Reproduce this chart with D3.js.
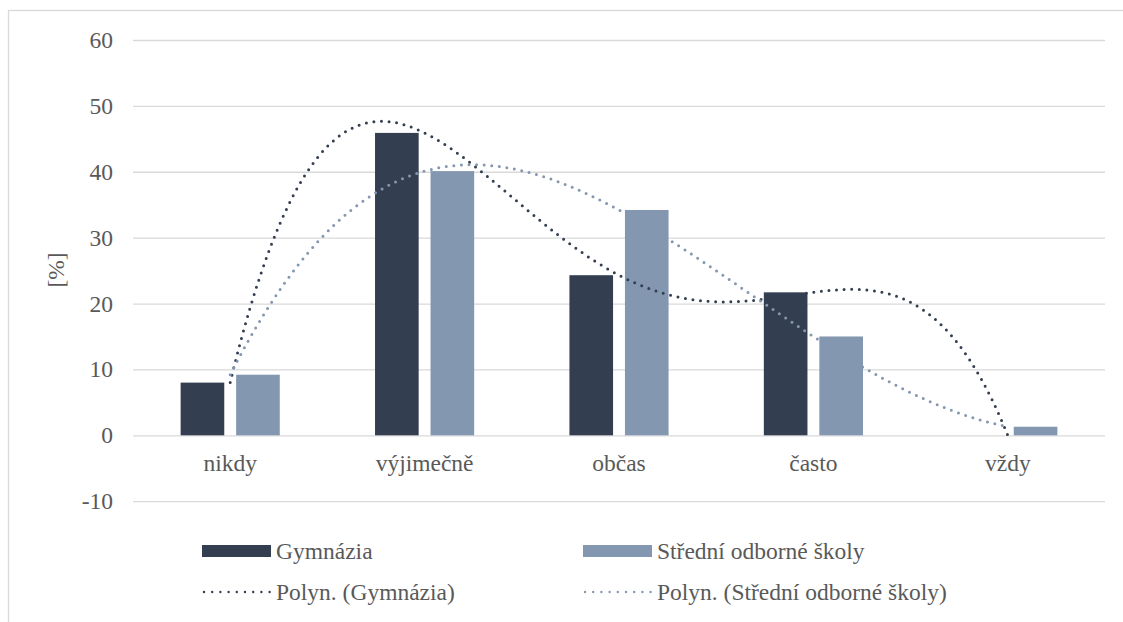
<!DOCTYPE html>
<html>
<head>
<meta charset="utf-8">
<script src="https://cdn.jsdelivr.net/npm/d3@7"></script>
<style>
  html, body { margin: 0; padding: 0; background: #ffffff; }
  svg { display: block; }
  svg text { font-family: 'Liberation Serif', 'Times New Roman', Tinos, 'DejaVu Serif', serif !important; fill: #595959; }
</style>
</head>
<body>
<svg id="chart" width="1123" height="622"></svg>
<script>
// ---- data ----
const categories = ["nikdy", "výjimečně", "občas", "často", "vždy"];
const gymnazia = [8.0, 45.9, 24.3, 21.7, 0];
const stredniSkoly = [9.2, 40.1, 34.2, 15.0, 1.3];
const seriesNames = ["Gymnázia", "Střední odborné školy"];
const trendNames = ["Polyn. (Gymnázia)", "Polyn. (Střední odborné školy)"];
const yTicks = [-10, 0, 10, 20, 30, 40, 50, 60];
const yTitle = "[%]";

// ---- layout ----
const W = 1123, H = 622;
const plot = { left: 133, right: 1105, top: 40, bottom: 501.2 };
const colors = ["#333F50", "#8497B0"];
const fontSize = 23.5;
const serif = "'Liberation Serif', 'Times New Roman', Tinos, 'DejaVu Serif', serif";

const svg = d3.select("#chart");

// chart border
svg.append("rect")
  .attr("x", 8.5).attr("y", 10.5)
  .attr("width", W + 10).attr("height", H + 10)
  .attr("fill", "none").attr("stroke", "#D9D9D9").attr("stroke-width", 1.3);

const x = d3.scaleBand().domain(categories).range([plot.left, plot.right]).paddingInner(0).paddingOuter(0);
const bw = x.bandwidth();
const x1 = d3.scaleBand().domain([0, 1]).range([bw * 0.245, bw * 0.755]).paddingInner(0.214).paddingOuter(0);
const y = d3.scaleLinear().domain([-10, 60]).range([plot.bottom, plot.top]);

// y axis with gridlines
const yAxis = d3.axisLeft(y).tickValues(yTicks)
  .tickSize(-(plot.right - plot.left)).tickPadding(20).tickFormat(d => String(d));
const gy = svg.append("g").attr("transform", `translate(${plot.left},0)`).call(yAxis)
  .attr("font-family", serif).attr("font-size", fontSize);
gy.select(".domain").remove();
gy.selectAll(".tick line").attr("stroke", "#D9D9D9").attr("stroke-width", 1.3);
gy.selectAll(".tick text").attr("fill", "#595959").style("font-family", serif).style("font-size", fontSize + "px");

// x labels
svg.append("g").selectAll("text").data(categories).join("text")
  .attr("x", d => x(d) + bw / 2)
  .attr("y", 471)
  .attr("text-anchor", "middle")
  .style("font-family", serif)
  .style("font-size", fontSize + "px")
  .text(d => d);

// y title
svg.append("text")
  .attr("transform", `translate(64,270) rotate(-90)`)
  .attr("text-anchor", "middle")
  .style("font-family", serif)
  .style("font-size", fontSize + "px")
  .text(yTitle);

// bars
const series = [gymnazia, stredniSkoly];
series.forEach((vals, si) => {
  svg.append("g").selectAll("rect").data(vals).join("rect")
    .attr("x", (d, i) => x(categories[i]) + x1(si))
    .attr("width", x1.bandwidth())
    .attr("y", d => y(Math.max(d, 0)))
    .attr("height", d => Math.abs(y(d) - y(0)))
    .attr("fill", colors[si]);
});

// polynomial (order 4) least-squares trendline, as in the spreadsheet trendline
function polyFit(xs, ys, order) {
  const n = order + 1;
  const A = Array.from({ length: n }, () => new Array(n + 1).fill(0));
  for (let r = 0; r < n; r++) {
    for (let c = 0; c < n; c++) A[r][c] = d3.sum(xs, xv => Math.pow(xv, r + c));
    A[r][n] = d3.sum(xs, (xv, i) => ys[i] * Math.pow(xv, r));
  }
  for (let i = 0; i < n; i++) {
    let p = i;
    for (let k = i + 1; k < n; k++) if (Math.abs(A[k][i]) > Math.abs(A[p][i])) p = k;
    [A[i], A[p]] = [A[p], A[i]];
    for (let k = i + 1; k < n; k++) {
      const f = A[k][i] / A[i][i];
      for (let c = i; c <= n; c++) A[k][c] -= f * A[i][c];
    }
  }
  const coef = new Array(n).fill(0);
  for (let i = n - 1; i >= 0; i--) {
    let s = A[i][n];
    for (let c = i + 1; c < n; c++) s -= A[i][c] * coef[c];
    coef[i] = s / A[i][i];
  }
  return t => coef.reduce((acc, cf, k) => acc + cf * Math.pow(t, k), 0);
}

const xi = d3.scaleLinear().domain([1, categories.length])
  .range([x(categories[0]) + bw / 2, x(categories[categories.length - 1]) + bw / 2]);
const idx = categories.map((c, i) => i + 1);
const samples = d3.range(1, categories.length + 0.0001, 0.02);
const line = d3.line().x(d => xi(d[0])).y(d => y(d[1])).curve(d3.curveLinear);

series.forEach((vals, si) => {
  const f = polyFit(idx, vals, 4);
  svg.append("path")
    .datum(samples.map(t => [t, f(t)]))
    .attr("d", line)
    .attr("fill", "none")
    .attr("stroke", colors[si])
    .attr("stroke-width", 3)
    .attr("stroke-linecap", "round")
    .attr("stroke-dasharray", "0 7.6");
});

// legend
const legendCols = [202, 583];
const rowSwatch = 551, rowTrend = 592;
const lg = svg.append("g");
seriesNames.forEach((name, si) => {
  lg.append("rect").attr("x", legendCols[si]).attr("y", rowSwatch - 6)
    .attr("width", 69).attr("height", 12).attr("fill", colors[si]);
  lg.append("text").attr("x", legendCols[si] + 74).attr("y", rowSwatch + 7.5)
    .style("font-family", serif)
    .style("font-size", fontSize + "px").text(name);
});
trendNames.forEach((name, si) => {
  lg.append("line").attr("x1", legendCols[si] + 2).attr("x2", legendCols[si] + 68)
    .attr("y1", rowTrend).attr("y2", rowTrend)
    .attr("stroke", colors[si]).attr("stroke-width", 2.4)
    .attr("stroke-linecap", "round").attr("stroke-dasharray", "0 8.2");
  lg.append("text").attr("x", legendCols[si] + 74).attr("y", rowTrend + 7.5)
    .style("font-family", serif)
    .style("font-size", fontSize + "px").text(name);
});
</script>
</body>
</html>
